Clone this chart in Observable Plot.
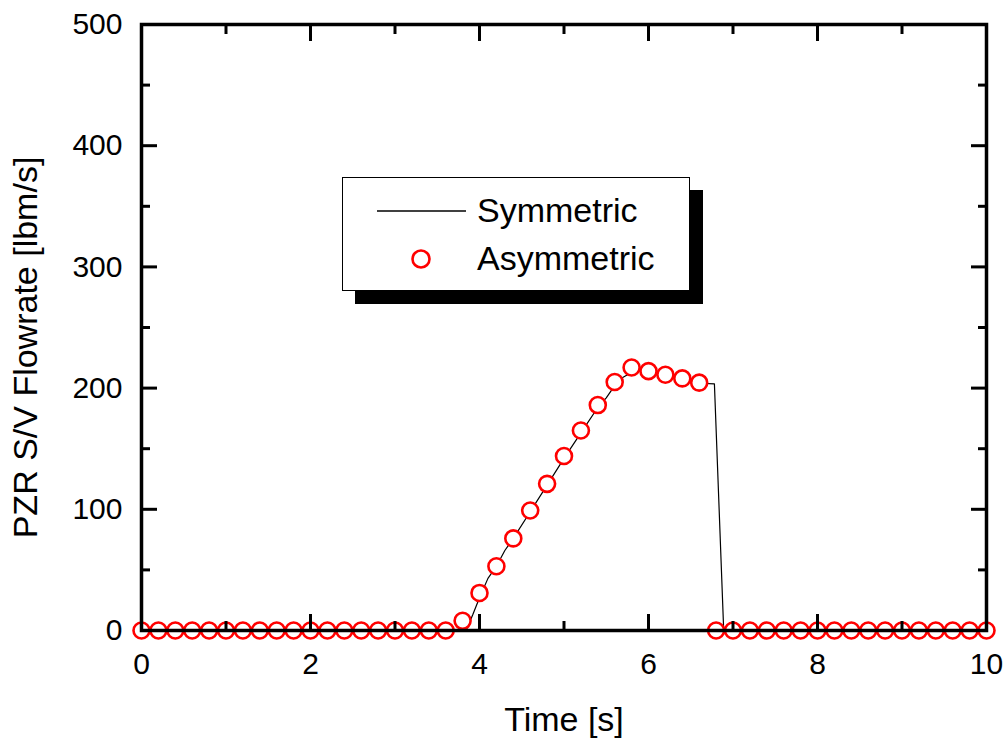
<!DOCTYPE html>
<html>
<head>
<meta charset="utf-8">
<script src="https://cdn.jsdelivr.net/npm/d3@7"></script>
<script src="https://cdn.jsdelivr.net/npm/@observablehq/plot@0.6"></script>
<style>
  html, body { margin: 0; padding: 0; background: #fff; }
  #wrap { position: relative; width: 1008px; height: 741px; }
  #legend { position: absolute; left: 342px; top: 177px; width: 346px; height: 112px;
            border: 1.5px solid #000; background: #fff; box-shadow: 13px 13px 0 #000; }
  #legend svg { position: absolute; left: 0; top: 0; }
</style>
</head>
<body>
<div id="wrap"></div>
<script>
// Symmetric case (solid line)
const symTime = [0, 3.84, 3.92, 4.0, 4.1, 4.2, 4.3, 4.4, 4.6, 4.8, 5.0, 5.2, 5.4, 5.5, 5.6, 5.7, 5.85, 6.0, 6.2, 6.4, 6.6, 6.78, 6.89, 10];
const symFlow = [0, 0, 13, 27, 43, 53, 66, 76, 98, 120, 142, 163, 184, 192, 202, 209, 215, 213, 210, 207, 204, 203.5, 0, 0];

// Asymmetric case (circles)
const asymTime = [0, 0.2, 0.4, 0.6, 0.8, 1.0, 1.2, 1.4, 1.6, 1.8, 2.0, 2.2, 2.4, 2.6, 2.8, 3.0, 3.2, 3.4, 3.6,
  3.8, 4.0, 4.2, 4.4, 4.6, 4.8, 5.0, 5.2, 5.4, 5.6, 5.8, 6.0, 6.2, 6.4, 6.6,
  6.8, 7.0, 7.2, 7.4, 7.6, 7.8, 8.0, 8.2, 8.4, 8.6, 8.8, 9.0, 9.2, 9.4, 9.6, 9.8, 10.0];
const asymFlow = [0, 0, 0, 0, 0, 0, 0, 0, 0, 0, 0, 0, 0, 0, 0, 0, 0, 0, 0,
  8, 31, 53, 76, 99, 121, 144, 165, 186, 205, 217, 214, 211, 208, 204.5,
  0, 0, 0, 0, 0, 0, 0, 0, 0, 0, 0, 0, 0, 0, 0, 0, 0];

const xMajor = [0, 2, 4, 6, 8, 10];
const xMinor = [1, 3, 5, 7, 9];
const yMajor = [0, 100, 200, 300, 400, 500];
const yMinor = [50, 150, 250, 350, 450];

const xTitle = "Time [s]";
const yTitle = "PZR S/V Flowrate [lbm/s]";
const seriesNames = ["Symmetric", "Asymmetric"];

const symData = symTime.map((t, i) => ({t, v: symFlow[i]}));
const asymData = asymTime.map((t, i) => ({t, v: asymFlow[i]}));

const FONT = "'Liberation Sans', Arial, Helvetica, sans-serif";
const noText = () => "";

const chart = Plot.plot({
  width: 1008,
  height: 741,
  marginLeft: 141,
  marginRight: 22,
  marginTop: 24,
  marginBottom: 111,
  x: {domain: [0, 10]},
  y: {domain: [0, 500]},
  style: {fontFamily: FONT, color: "#000", background: "#fff", overflow: "visible"},
  marks: [
    Plot.line(symData, {x: "t", y: "v", stroke: "#000", strokeWidth: 1.2}),
    Plot.dot(asymData, {x: "t", y: "v", r: 8, stroke: "#ff0000", strokeWidth: 2.6, fill: "#fff"}),
    Plot.frame({stroke: "#000", strokeWidth: 3.5}),
    // inward ticks, all four sides
    Plot.axisX(xMajor, {anchor: "bottom", tickSize: -16, tickFormat: noText, label: null, strokeWidth: 3}),
    Plot.axisX(xMinor, {anchor: "bottom", tickSize: -9, tickFormat: noText, label: null, strokeWidth: 3}),
    Plot.axisX(xMajor, {anchor: "top", tickSize: -16, tickFormat: noText, label: null, strokeWidth: 3}),
    Plot.axisX(xMinor, {anchor: "top", tickSize: -9, tickFormat: noText, label: null, strokeWidth: 3}),
    Plot.axisY(yMajor, {anchor: "left", tickSize: -16, tickFormat: noText, label: null, strokeWidth: 3}),
    Plot.axisY(yMinor, {anchor: "left", tickSize: -9, tickFormat: noText, label: null, strokeWidth: 3}),
    Plot.axisY(yMajor, {anchor: "right", tickSize: -16, tickFormat: noText, label: null, strokeWidth: 3}),
    Plot.axisY(yMinor, {anchor: "right", tickSize: -9, tickFormat: noText, label: null, strokeWidth: 3}),
    // tick labels
    Plot.axisX(xMajor, {anchor: "bottom", tickSize: 0, tickPadding: 22, label: null, fontSize: 30, fontFamily: FONT, tickFormat: d => String(d)}),
    Plot.axisY(yMajor, {anchor: "left", tickSize: 0, tickPadding: 19, label: null, fontSize: 30, fontFamily: FONT, tickFormat: d => String(d)}),
    // axis titles
    Plot.text([xTitle], {text: d => d, frameAnchor: "bottom", textAnchor: "middle", lineAnchor: "middle", dy: 90, fontSize: 34, fontFamily: FONT, fill: "#000"}),
    Plot.text([yTitle], {text: d => d, frameAnchor: "left", textAnchor: "middle", lineAnchor: "middle", rotate: -90, dx: -115, dy: 20, fontSize: 34, fontFamily: FONT, fill: "#000"})
  ]
});

const wrap = document.getElementById("wrap");
wrap.appendChild(chart);

// Legend overlay
const legend = document.createElement("div");
legend.id = "legend";
legend.innerHTML = `
<svg width="346" height="112" xmlns="http://www.w3.org/2000/svg" style="font-family:${FONT}">
  <line x1="34" x2="123" y1="33" y2="33" stroke="#000" stroke-width="1.4"/>
  <text x="134" y="44" font-size="34" fill="#000">${seriesNames[0]}</text>
  <circle cx="78" cy="81" r="8.5" fill="#fff" stroke="#ff0000" stroke-width="2.6"/>
  <text x="134" y="92" font-size="34" fill="#000">${seriesNames[1]}</text>
</svg>`;
wrap.appendChild(legend);
</script>
</body>
</html>
